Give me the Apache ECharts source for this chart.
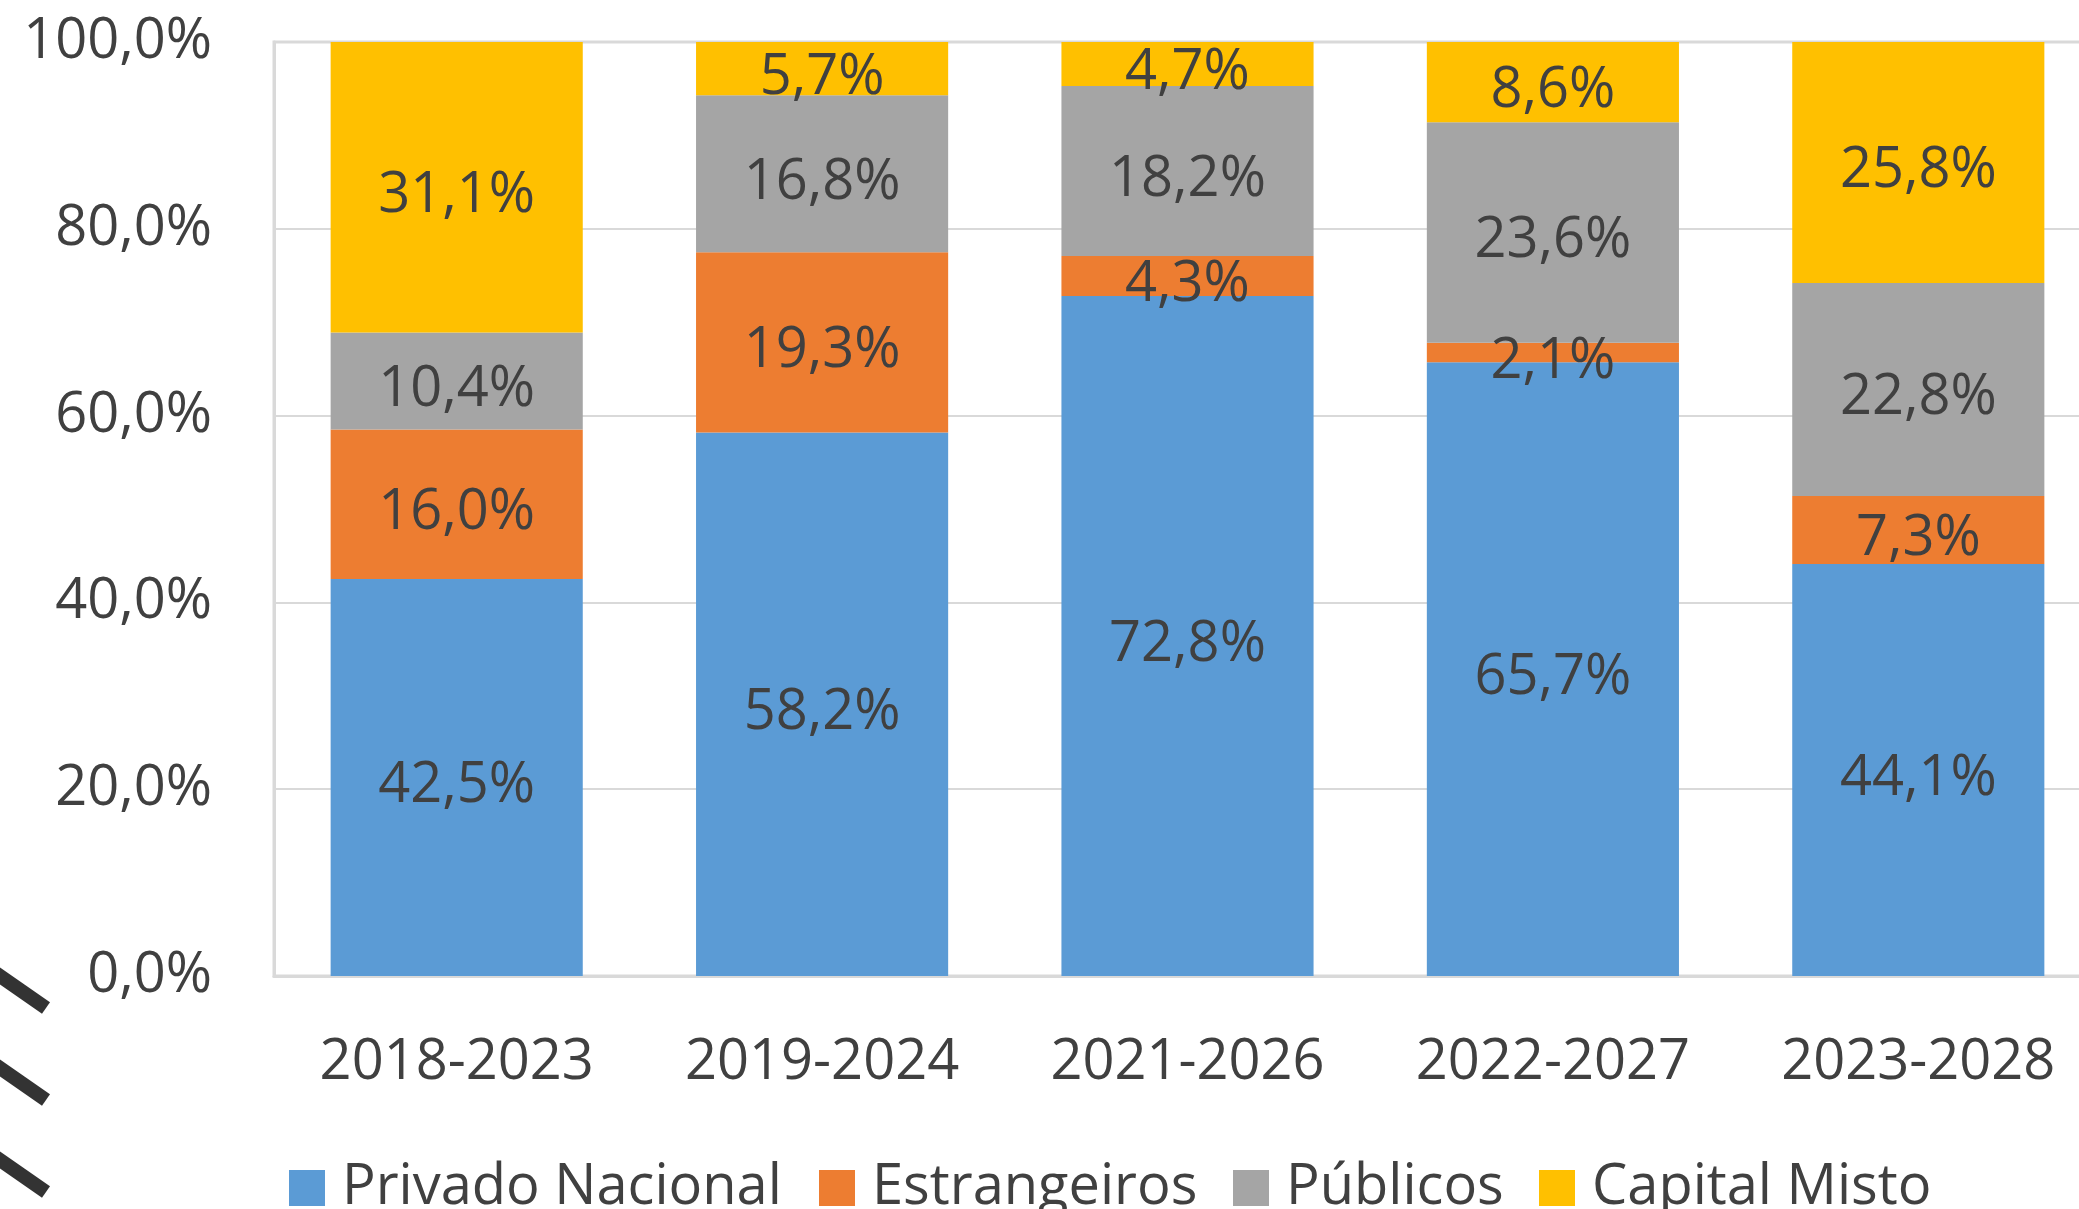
<!DOCTYPE html>
<html>
<head>
<meta charset="utf-8">
<style>
  html, body { margin: 0; padding: 0; background: #fff; overflow: hidden; }
  #main { width: 2101px; height: 1209px; }
</style>
<script src="https://cdn.jsdelivr.net/npm/echarts@6/dist/echarts.min.js"></script>
</head>
<body>
<div id="main"></div>
<script>
let periods = ['2018-2023', '2019-2024', '2021-2026', '2022-2027', '2023-2028']
let privadoNacional = [42.5, 58.2, 72.8, 65.7, 44.1]
let estrangeiros = [16.0, 19.3, 4.3, 2.1, 7.3]
let publicos = [10.4, 16.8, 18.2, 23.6, 22.8]
let capitalMisto = [31.1, 5.7, 4.7, 8.6, 25.8]
let yTicks = [0, 20, 40, 60, 80, 100]

let seriesNames = ['Privado Nacional', 'Estrangeiros', 'Públicos', 'Capital Misto']
let seriesColors = ['#5B9BD5', '#ED7D31', '#A5A5A5', '#FFC000']
let seriesData = [privadoNacional, estrangeiros, publicos, capitalMisto]
let legendLeft = [284, 814, 1228, 1534]

const FONT = 'Open Sans'
const TEXT = '#404040'

function pct(v) {
    return v.toFixed(1).replace('.', ',') + '%'
}

// the plot runs past the right edge of the picture, so the canvas is a bit wider than the window
let chart = echarts.init(document.getElementById('main'))

let option = {
    animation: false,
    backgroundColor: '#fff',
    textStyle: { fontFamily: FONT },
    grid: {
        left: 274,
        top: 42,
        right: 0,
        height: 934,
        show: true,
        borderColor: '#d9d9d9',
        borderWidth: 3,
        containLabel: false
    },
    legend: seriesNames.map((name, i) => ({
        data: [name],
        left: legendLeft[i],
        top: 1155,
        itemWidth: 36,
        itemHeight: 36,
        icon: 'rect',
        textStyle: {
            fontFamily: FONT,
            fontSize: 56,
            lineHeight: 56,
            color: TEXT,
            padding: [0, 0, 0, 12]
        }
    })),
    xAxis: {
        type: 'category',
        data: periods,
        axisLine: { show: true, lineStyle: { color: '#d9d9d9', width: 3 } },
        axisTick: { show: false },
        axisLabel: {
            fontFamily: FONT,
            fontSize: 56,
            lineHeight: 56,
            color: TEXT,
            margin: 59
        }
    },
    yAxis: {
        type: 'value',
        min: yTicks[0],
        max: yTicks[yTicks.length - 1],
        interval: 20,
        axisLine: { show: true, lineStyle: { color: '#d9d9d9', width: 3 } },
        axisTick: { show: false },
        splitLine: { lineStyle: { color: '#d9d9d9', width: 2 } },
        axisLabel: {
            fontFamily: FONT,
            fontSize: 56,
            lineHeight: 56,
            color: TEXT,
            margin: 62,
            padding: [10, 0, 0, 0],
            formatter: v => pct(v)
        }
    },
    series: seriesNames.map((name, i) => ({
        name: name,
        type: 'bar',
        stack: 'total',
        barCategoryGap: '31%',
        itemStyle: { color: seriesColors[i] },
        label: {
            show: true,
            position: 'inside',
            offset: [0, 9],
            fontFamily: FONT,
            fontSize: 56,
            color: TEXT,
            formatter: p => pct(p.value)
        },
        data: seriesData[i]
    })),
    graphic: [
        { type: 'line', shape: { x1: -10, y1: 969, x2: 46, y2: 1008 }, style: { stroke: '#333', lineWidth: 14 } },
        { type: 'line', shape: { x1: -10, y1: 1061, x2: 46, y2: 1100 }, style: { stroke: '#333', lineWidth: 14 } },
        { type: 'line', shape: { x1: -10, y1: 1153, x2: 46, y2: 1192 }, style: { stroke: '#333', lineWidth: 14 } }
    ]
}

chart.setOption(option)
</script>
</body>
</html>
